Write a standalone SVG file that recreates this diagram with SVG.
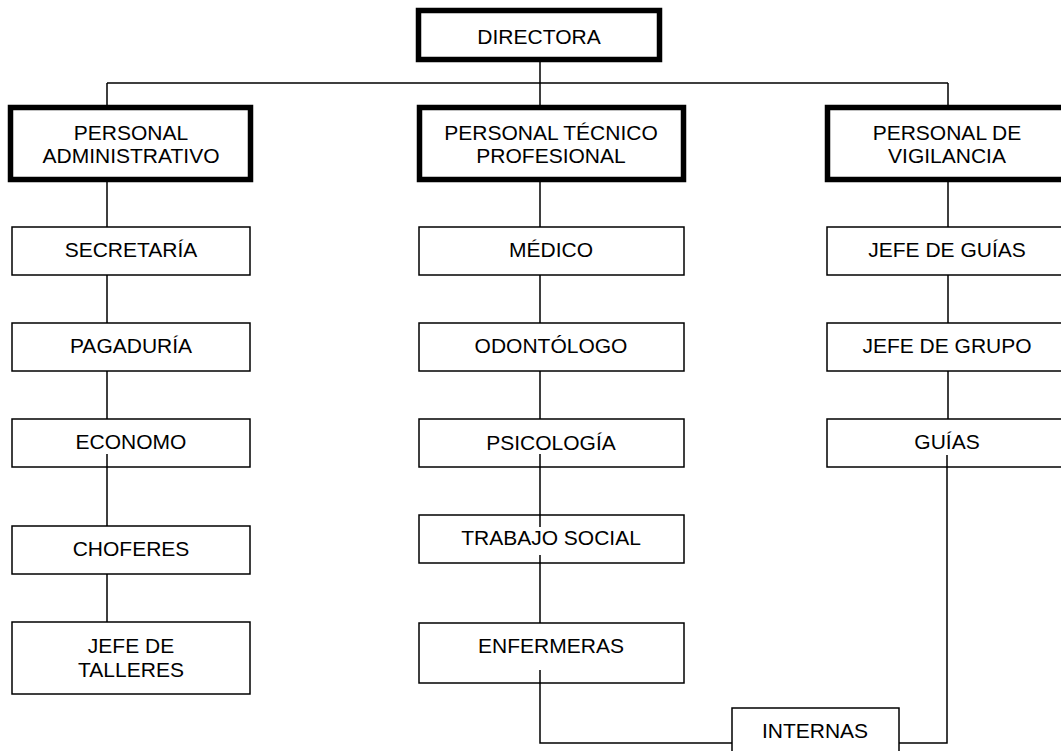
<svg xmlns="http://www.w3.org/2000/svg" width="1061" height="751" viewBox="0 0 1061 751">
<style>
.thick{fill:#fff;stroke:#000;stroke-width:5.5}
.box{fill:#fff;stroke:#000;stroke-width:1.5}
.c{fill:none;stroke:#000;stroke-width:1.5}
text{font-family:"Liberation Sans",Arial,sans-serif;font-size:21px;fill:#000;text-anchor:middle}
</style>
<rect width="1061" height="751" fill="#fff"/>
<g id="connectors">
<path class="c" d="M107 83H948M107 83V106M540 62V106M948 83V106"/>
<path class="c" d="M107 182V227M107 275V323M107 371V419M107 467V526M107 574V622"/>
<path class="c" d="M540 182V227M540 275V323M540 371V419"/>
<path class="c" d="M948 182V227M948 275V323M948 371V419"/>
</g>
<g id="directora"><rect class="thick" x="418.5" y="10.5" width="241" height="49"/><text x="539" y="44">DIRECTORA</text></g>
<g id="personal-administrativo"><rect class="thick" x="10.5" y="107.5" width="240" height="72"/><text x="131" y="140">PERSONAL</text><text x="131" y="163">ADMINISTRATIVO</text></g>
<g id="personal-tecnico"><rect class="thick" x="419.5" y="107.5" width="264" height="72"/><text x="551" y="140">PERSONAL TÉCNICO</text><text x="551" y="163">PROFESIONAL</text></g>
<g id="personal-vigilancia"><rect class="thick" x="827.5" y="107.5" width="240" height="72"/><text x="947" y="140">PERSONAL DE</text><text x="947" y="163">VIGILANCIA</text></g>
<g id="secretaria"><rect class="box" x="12" y="227" width="238" height="48"/><text x="131" y="257">SECRETARÍA</text></g>
<g id="pagaduria"><rect class="box" x="12" y="323" width="238" height="48"/><text x="131" y="353">PAGADURÍA</text></g>
<g id="economo"><rect class="box" x="12" y="419" width="238" height="48"/><text x="131" y="449">ECONOMO</text></g>
<g id="choferes"><rect class="box" x="12" y="526" width="238" height="48"/><text x="131" y="556">CHOFERES</text></g>
<g id="jefe-talleres"><rect class="box" x="12" y="622" width="238" height="72"/><text x="131" y="653">JEFE DE</text><text x="131" y="677">TALLERES</text></g>
<g id="medico"><rect class="box" x="419" y="227" width="265" height="48"/><text x="551" y="257">MÉDICO</text></g>
<g id="odontologo"><rect class="box" x="419" y="323" width="265" height="48"/><text x="551" y="353">ODONTÓLOGO</text></g>
<g id="psicologia"><rect class="box" x="419" y="419" width="265" height="48"/><text x="551" y="450">PSICOLOGÍA</text></g>
<g id="trabajo-social"><rect class="box" x="419" y="515" width="265" height="48"/><text x="551" y="545">TRABAJO SOCIAL</text></g>
<g id="enfermeras"><rect class="box" x="419" y="623" width="265" height="60"/><text x="551" y="653">ENFERMERAS</text></g>
<g id="jefe-guias"><rect class="box" x="827" y="227" width="240" height="48"/><text x="947" y="257">JEFE DE GUÍAS</text></g>
<g id="jefe-grupo"><rect class="box" x="827" y="323" width="240" height="48"/><text x="947" y="353">JEFE DE GRUPO</text></g>
<g id="guias"><rect class="box" x="827" y="419" width="240" height="48"/><text x="947" y="449">GUÍAS</text></g>
<g id="internas"><rect class="box" x="732" y="708" width="167" height="60"/><text x="815" y="738">INTERNAS</text></g>
<g id="connectors-over">
<path class="c" d="M107 454V467M540 454V527M540 555V623M540 670V743H732M899 743H947V455"/>
</g>
</svg>
